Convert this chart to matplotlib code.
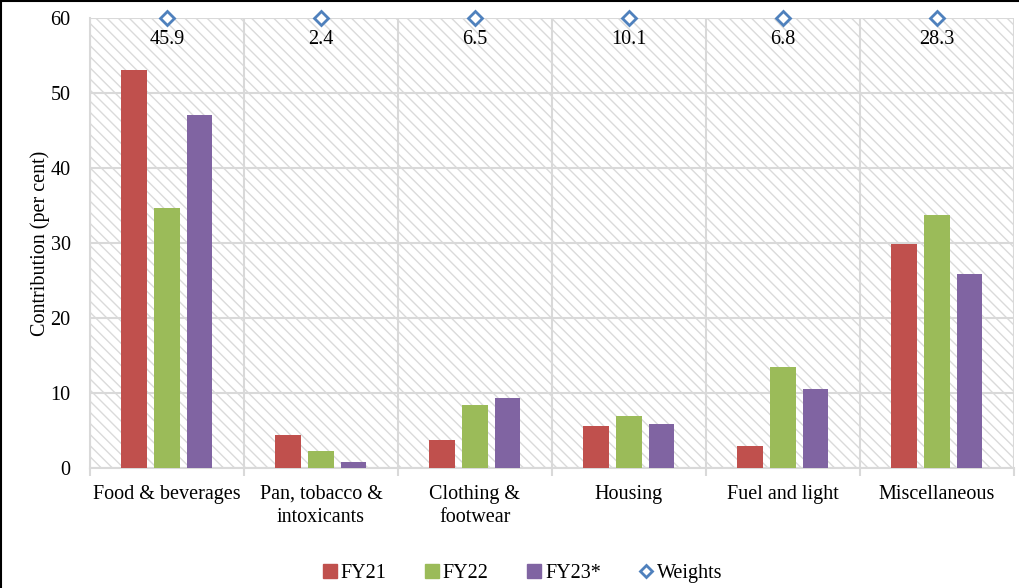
import matplotlib
matplotlib.use("Agg")
import matplotlib.pyplot as plt
import numpy as np
from matplotlib.lines import Line2D
from matplotlib.patches import Patch

plt.rcParams['font.family'] = ['Liberation Serif', 'DejaVu Serif']
plt.rcParams['hatch.color'] = '#dadada'
plt.rcParams['hatch.linewidth'] = 1.0

categories = ['Food & beverages', 'Pan, tobacco &\nintoxicants', 'Clothing &\nfootwear',
              'Housing', 'Fuel and light', 'Miscellaneous']
fy21 = [53.1, 4.4, 3.7, 5.6, 2.9, 29.9]
fy22 = [34.7, 2.3, 8.4, 6.9, 13.5, 33.7]
fy23 = [47.1, 0.8, 9.3, 5.9, 10.5, 25.9]
weights = [45.9, 2.4, 6.5, 10.1, 6.8, 28.3]

size = 14.5
grid_c = '#d9d9d9'

fig = plt.figure(figsize=(10.19, 5.88), dpi=100)
ax = fig.add_axes([0.0883, 0.2041, 0.9067, 0.7653])

ax.patch.set_hatch('\\\\\\')
ax.patch.set_edgecolor('#dadada')
ax.patch.set_linewidth(0)

x = np.arange(len(categories))
w = 0.165
step = 0.213
ax.bar(x - step, fy21, w, color='#c0504d', label='FY21', zorder=3)
ax.bar(x, fy22, w, color='#9bbb59', label='FY22', zorder=3)
ax.bar(x + step, fy23, w, color='#8064a2', label='FY23*', zorder=3)

# weights markers pinned at the top with value labels below
ax.plot(x, [60] * len(x), linestyle='none', marker='D', markersize=7, markerfacecolor='white',
        markeredgecolor='#4f81bd', markeredgewidth=2, clip_on=False, zorder=5)
for xi, wv in zip(x, weights):
    ax.text(xi, 57.1, f'{wv}', ha='center', va='center', fontsize=size, zorder=6)

ax.set_xlim(-0.5, len(categories) - 0.5)
ax.set_ylim(0, 60)
ax.set_yticks(range(0, 61, 10))
ax.set_xticks(x)
ax.set_xticklabels(categories, fontsize=size, linespacing=1.3)
ax.set_xticks(np.arange(-0.5, len(categories)), minor=True)
ax.tick_params(axis='x', which='major', length=0, pad=12)
ax.tick_params(axis='x', which='minor', length=6, color=grid_c, width=1.5)
ax.tick_params(axis='y', length=0, labelsize=size, pad=14)

ax.grid(axis='y', color=grid_c, linewidth=1.5, zorder=1)
ax.grid(axis='x', which='minor', color=grid_c, linewidth=1.5, zorder=1)
ax.set_axisbelow(True)
for s in ['top', 'right']:
    ax.spines[s].set_visible(False)
for s in ['left', 'bottom']:
    ax.spines[s].set_color(grid_c)
    ax.spines[s].set_linewidth(1.5)

ax.set_ylabel('Contribution (per cent)', fontsize=size, labelpad=0)

handles = [Patch(color='#c0504d', label='FY21'), Patch(color='#9bbb59', label='FY22'),
           Patch(color='#8064a2', label='FY23*'),
           Line2D([], [], linestyle='none', marker='D', markersize=6, markerfacecolor='white',
                  markeredgecolor='#4f81bd', markeredgewidth=2, label='Weights')]
fig.legend(handles=handles, loc='center', bbox_to_anchor=(0.513, 0.025), ncol=4, frameon=False,
           fontsize=size, handlelength=0.7, handleheight=0.7, handletextpad=0.2, columnspacing=1.9)

# outer border (left and top visible)
fig.add_artist(Line2D([0.001, 0.001], [0, 0.999], transform=fig.transFigure, color='black', linewidth=1.5))
fig.add_artist(Line2D([0.001, 1], [0.998, 0.998], transform=fig.transFigure, color='black', linewidth=1.5))

fig.savefig('out.png', dpi=100)
